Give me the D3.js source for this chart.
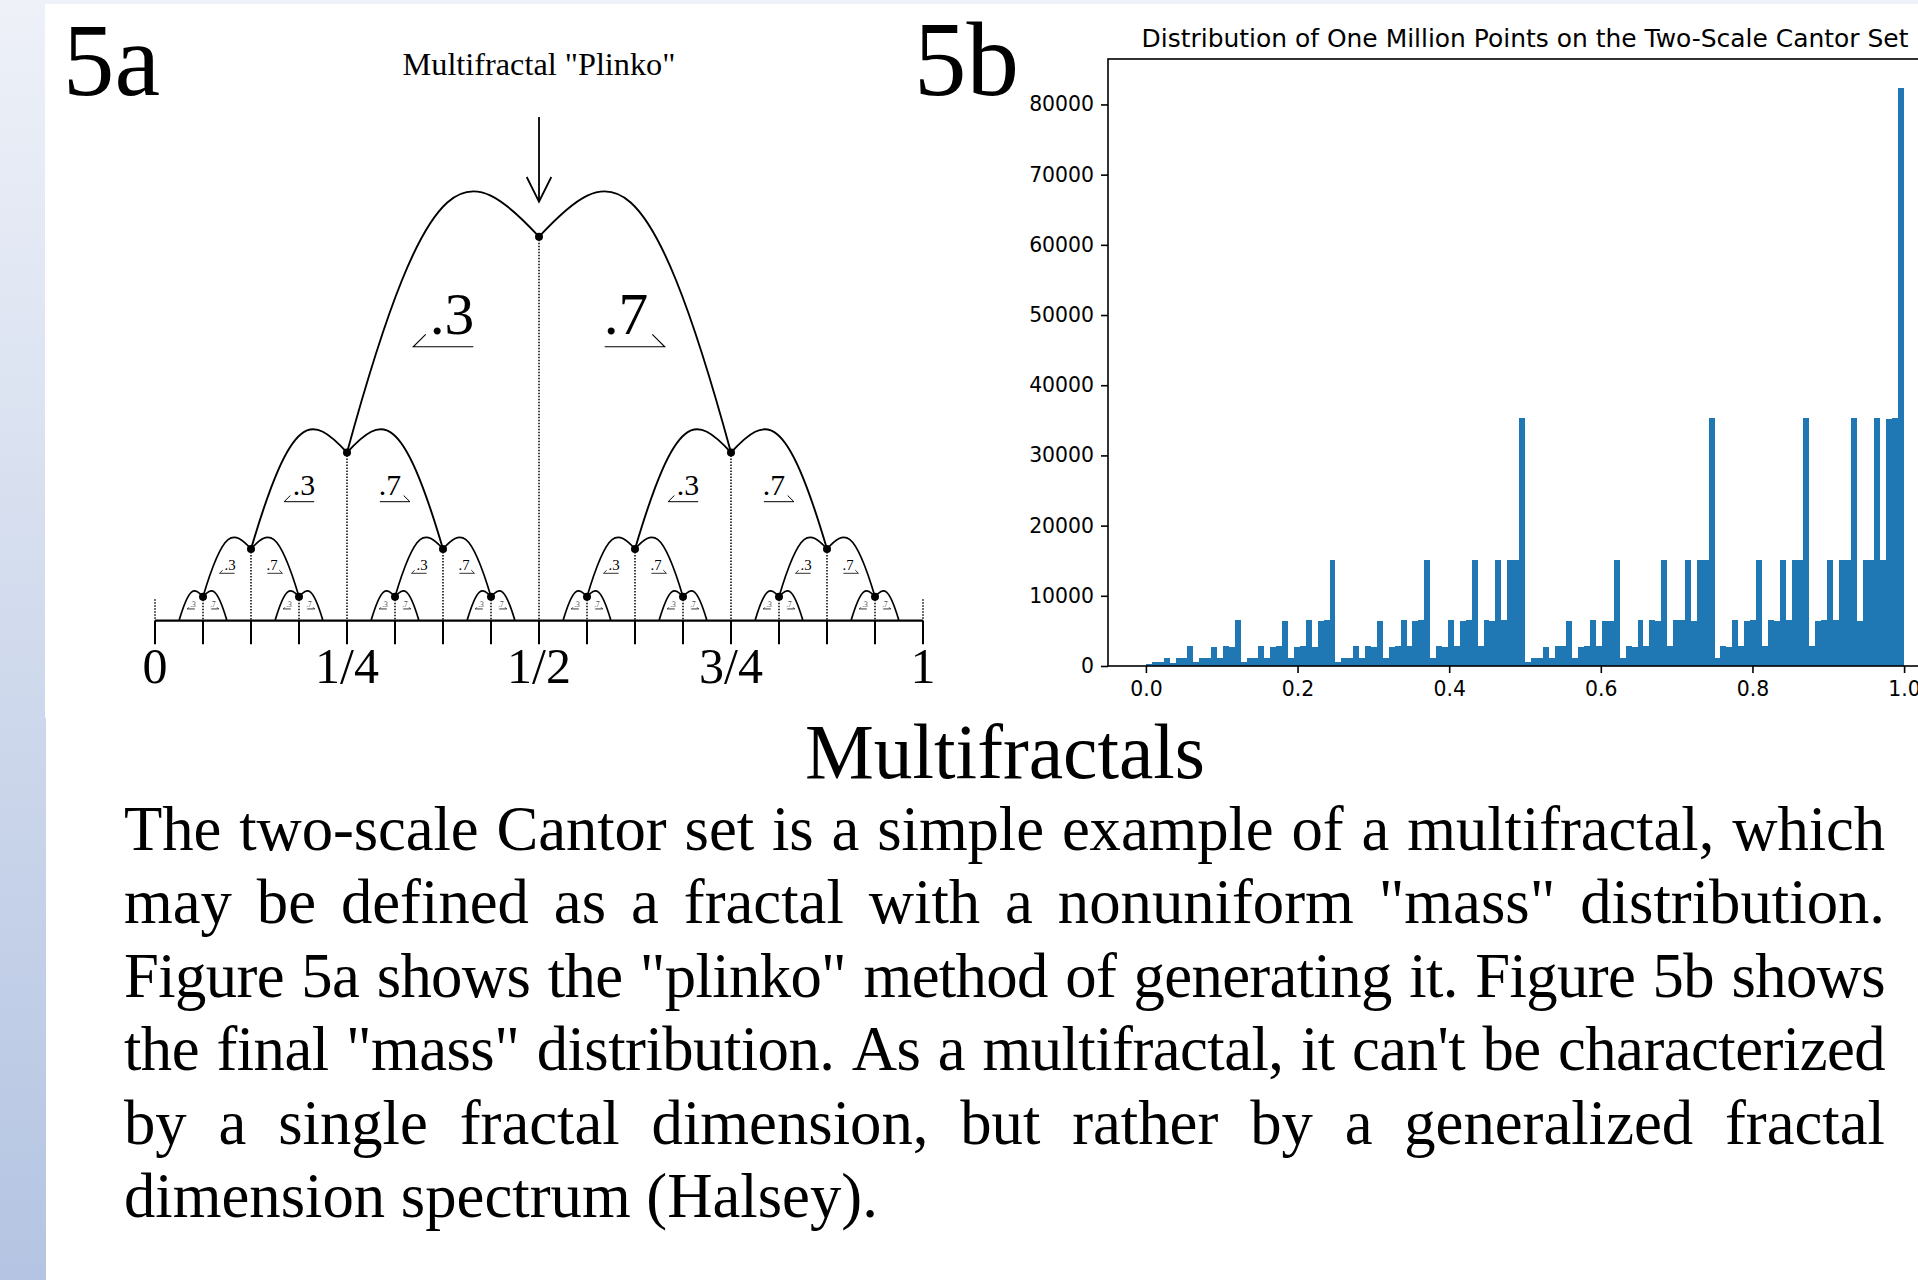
<!DOCTYPE html>
<html><head><meta charset="utf-8">
<script src="https://cdn.jsdelivr.net/npm/d3@7"></script>
<style>
html,body{margin:0;padding:0;background:#fff;}
body{width:1918px;height:1280px;overflow:hidden;position:relative;}
svg{position:absolute;left:0;top:0;}
</style></head><body>
<script>
// ---------------- DATA ----------------
const binCounts = [
  214, 507, 521, 1187, 498, 1203, 1176, 2791, 515, 1194, 1210, 2764, 1182, 2802, 2771, 6495,
  503, 1199, 1178, 2786, 1205, 2759, 2810, 6462, 1191, 2777, 2795, 6503, 2768, 6471, 6490, 15142,
  512, 1185, 1201, 2783, 1196, 2799, 2762, 6478, 1207, 2774, 2788, 6511, 2796, 6466, 6487, 15098,
  1189, 2805, 2769, 6494, 2781, 6459, 6502, 15161, 2790, 6484, 6476, 15117, 6498, 15134, 15089, 35312,
  509, 1198, 1183, 2776, 1192, 2801, 2784, 6469, 1204, 2767, 2793, 6506, 2780, 6481, 6473, 15127,
  1186, 2798, 2772, 6489, 2785, 6500, 6464, 15150, 2778, 6492, 6485, 15104, 6477, 15139, 15121, 35268,
  1195, 2789, 2773, 6496, 2782, 6470, 6508, 15113, 2794, 6483, 6479, 15146, 6491, 15108, 15132, 35327,
  2787, 6474, 6499, 15119, 6486, 15155, 15096, 35281, 6480, 15128, 15137, 35339, 15110, 35254, 35301, 82356
];
const histYTicks = [0, 10000, 20000, 30000, 40000, 50000, 60000, 70000, 80000];
const histXTicks = [0.0, 0.2, 0.4, 0.6, 0.8, 1.0];
const histTitle = "Distribution of One Million Points on the Two-Scale Cantor Set";

const plinkoTitle = 'Multifractal "Plinko"';
const plinkoProbs = [".3", ".7"];
const plinkoTickValues = [0, 0.25, 0.5, 0.75, 1];
const plinkoTickLabels = ["0", "1/4", "1/2", "3/4", "1"];
const plinkoLevels = 4;

const panelLabels = ["5a", "5b"];
const slideTitle = "Multifractals";
const bodyLines = [
  "The two-scale Cantor set is a simple example of a multifractal, which",
  "may be defined as a fractal with a nonuniform \"mass\" distribution.",
  "Figure 5a shows the \"plinko\" method of generating it. Figure 5b shows",
  "the final \"mass\" distribution. As a multifractal, it can't be characterized",
  "by a single fractal dimension, but rather by a generalized fractal",
  "dimension spectrum (Halsey)."
];

// ---------------- SETUP ----------------
const W = 1918, H = 1280;
const SERIF = "'Liberation Serif', 'DejaVu Serif', serif";
const SANS = "'DejaVu Sans', sans-serif";
const svg = d3.select("body").append("svg").attr("width", W).attr("height", H);
const defs = svg.append("defs");
const grad = defs.append("linearGradient").attr("id", "strip").attr("gradientUnits", "userSpaceOnUse")
  .attr("x1", 0).attr("y1", 0).attr("x2", 0).attr("y2", H);
grad.append("stop").attr("offset", "0%").attr("stop-color", "#eef1f8");
grad.append("stop").attr("offset", "100%").attr("stop-color", "#b4c4e2");

svg.append("rect").attr("x", 0).attr("y", 0).attr("width", W).attr("height", 4).attr("fill", "#eef1f8");
svg.append("rect").attr("x", 0).attr("y", 0).attr("width", 45).attr("height", 718).attr("fill", "url(#strip)");
svg.append("rect").attr("x", 0).attr("y", 718).attr("width", 46).attr("height", H - 718).attr("fill", "url(#strip)");

function fitWidth(sel, target) {
  const w = sel.node().getComputedTextLength();
  const fs = parseFloat(sel.attr("font-size"));
  sel.attr("font-size", fs * target / w);
}

// ---------------- PANEL LABELS ----------------
const l5a = svg.append("text").attr("x", 63).attr("y", 95).attr("font-family", SERIF)
  .attr("font-size", 100).text(panelLabels[0]);
fitWidth(l5a, 97);
const l5b = svg.append("text").attr("x", 914).attr("y", 95).attr("font-family", SERIF)
  .attr("font-size", 100).text(panelLabels[1]);
fitWidth(l5b, 105);

// ---------------- HISTOGRAM ----------------
const nb = binCounts.length;
const hx = d3.scaleLinear().domain([-0.05, 1.05]).range([1108, 1942]);
const hy = d3.scaleLinear().domain([0, d3.max(binCounts) * 1.05]).range([666, 59]);
const hg = svg.append("g");
hg.append("g").attr("shape-rendering", "crispEdges")
  .selectAll("rect").data(binCounts).join("rect")
  .attr("x", (d, i) => hx(i / nb))
  .attr("width", (d, i) => hx((i + 1) / nb) - hx(i / nb))
  .attr("y", d => hy(d))
  .attr("height", d => hy(0) - hy(d))
  .attr("fill", "#1f77b4");

const yAxis = d3.axisLeft(hy).tickValues(histYTicks).tickSize(7).tickPadding(7).tickFormat(d3.format("d"));
const gy = hg.append("g").attr("transform", `translate(${hx(-0.05)},0)`).call(yAxis);
gy.select(".domain").remove();
const xAxis = d3.axisBottom(hx).tickValues(histXTicks).tickSize(7).tickPadding(7).tickFormat(d3.format(".1f"));
const gx = hg.append("g").attr("transform", `translate(0,${hy(0)})`).call(xAxis);
gx.select(".domain").remove();
[gx, gy].forEach(g => {
  g.attr("font-family", SANS).attr("font-size", 20.4);
  g.selectAll("line").attr("stroke", "#000").attr("stroke-width", 1.6);
  g.selectAll("text").attr("fill", "#000");
});
gx.selectAll("text").attr("dy", "0.76em");
hg.append("rect").attr("x", hx(-0.05)).attr("y", hy.range()[1])
  .attr("width", hx(1.05) - hx(-0.05)).attr("height", hy.range()[0] - hy.range()[1])
  .attr("fill", "none").attr("stroke", "#000").attr("stroke-width", 1.6);
const ht = hg.append("text").attr("x", hx(0.5)).attr("y", 47).attr("text-anchor", "middle")
  .attr("font-family", SANS).attr("font-size", 24.5).attr("fill", "#000").text(histTitle);
fitWidth(ht, 767);

// ---------------- PLINKO ----------------
const px = d3.scaleLinear().domain([0, 1]).range([155, 923]);
const baseY = 620.7;
const unit = px(1) - px(0);
const py = d3.scaleLinear().domain([0, 1]).range([baseY, baseY - unit]);
const nodeH = [0.5, 0.219, 0.0934, 0.03125, 0];
const pg = svg.append("g");

pg.append("line").attr("x1", px(0)).attr("x2", px(1)).attr("y1", baseY).attr("y2", baseY)
  .attr("stroke", "#000").attr("stroke-width", 2.2);
pg.selectAll("line.tk").data(d3.range(0, 17).map(i => i / 16)).join("line").attr("class", "tk")
  .attr("x1", d => px(d)).attr("x2", d => px(d)).attr("y1", baseY).attr("y2", baseY + 23.6)
  .attr("stroke", "#000").attr("stroke-width", 2);
pg.selectAll("text.tl").data(plinkoTickValues).join("text").attr("class", "tl")
  .attr("x", d => px(d)).attr("y", 683).attr("text-anchor", "middle")
  .attr("font-family", SERIF).attr("font-size", 50).attr("fill", "#000")
  .text((d, i) => plinkoTickLabels[i]);
[0, 1].forEach(v => {
  pg.append("line").attr("x1", px(v)).attr("x2", px(v)).attr("y1", baseY - 21.4).attr("y2", baseY)
    .attr("stroke", "#000").attr("stroke-width", 1.5).attr("stroke-dasharray", "1.5,1.5");
});

const nodes = [];
function build(c, lev) {
  const d = 0.25 / Math.pow(2, lev);
  nodes.push({c, lev, d});
  if (lev + 1 < plinkoLevels) { build(c - d, lev + 1); build(c + d, lev + 1); }
}
build(0.5, 0);

const curveG = pg.append("g");
const dotG = pg.append("g");
const labG = pg.append("g");
nodes.forEach(n => {
  const D = n.d * unit;
  const x0 = px(n.c), y0 = py(nodeH[n.lev]);
  const yc = py(nodeH[n.lev + 1]);
  dotG.append("line").attr("x1", x0).attr("x2", x0).attr("y1", y0).attr("y2", baseY)
    .attr("stroke", "#000").attr("stroke-width", 1.5).attr("stroke-dasharray", "1.5,1.5");
  [-1, 1].forEach((s, k) => {
    const p = d3.path();
    p.moveTo(x0, y0);
    p.bezierCurveTo(px(n.c + s * 0.37 * n.d), y0 - 0.40 * D,
                    px(n.c + s * 0.57 * n.d), y0 - 0.45 * D,
                    px(n.c + s * n.d), yc);
    curveG.append("path").attr("d", p.toString()).attr("fill", "none")
      .attr("stroke", "#000").attr("stroke-width", n.lev < 2 ? 1.9 : 1.7);
    const ly = y0 + 0.51 * (yc - y0);
    const xa = px(n.c + s * 0.342 * n.d), xb = px(n.c + s * 0.655 * n.d);
    const hk = 0.065 * D;
    const lw = n.lev === 0 ? 1.1 : (n.lev === 1 ? 1 : 0.8);
    labG.append("path")
      .attr("d", `M${xa},${ly}L${xb},${ly}L${xb - s * hk},${ly - hk}`)
      .attr("fill", "none").attr("stroke", "#000").attr("stroke-width", lw);
    labG.append("text").attr("x", s < 0 ? xa + 1 : xa - 1).attr("y", ly - 0.068 * D)
      .attr("text-anchor", s < 0 ? "end" : "start")
      .attr("font-family", SERIF).attr("font-size", 0.31 * D).attr("fill", n.lev > 2 ? "#444" : "#000")
      .text(plinkoProbs[k]);
  });
  dotG.append("circle").attr("cx", x0).attr("cy", y0).attr("r", 4).attr("fill", "#000");
});

const ax = px(0.5);
pg.append("line").attr("x1", ax).attr("x2", ax).attr("y1", 117).attr("y2", 201.7)
  .attr("stroke", "#000").attr("stroke-width", 1.8);
pg.append("path").attr("d", `M${ax - 12.3},177L${ax},201.7L${ax + 12.3},177`)
  .attr("fill", "none").attr("stroke", "#000").attr("stroke-width", 1.8);
const ptitle = pg.append("text").attr("x", ax).attr("y", 75).attr("text-anchor", "middle")
  .attr("font-family", SERIF).attr("font-size", 30).attr("fill", "#000").text(plinkoTitle);
fitWidth(ptitle, 273);

// ---------------- SLIDE TEXT ----------------
const st = svg.append("text").attr("x", 1005).attr("y", 778).attr("text-anchor", "middle")
  .attr("font-family", SERIF).attr("font-size", 80).attr("fill", "#000").text(slideTitle);
fitWidth(st, 400);

const tmp = svg.append("text").attr("font-family", SERIF).attr("font-size", 100);
function measure(s, fs, ls) {
  tmp.attr("font-size", fs).attr("letter-spacing", ls || 0).text(s);
  return tmp.node().getComputedTextLength();
}
const bx0 = 124, bx1 = 1885, by0 = 850, lh = 73.4;
const bw = bx1 - bx0;
const bfs = 100 * 754 / measure(bodyLines[5], 100);
const bodyG = svg.append("g");
bodyLines.forEach((line, li) => {
  const y = by0 + li * lh;
  const t = bodyG.append("text").attr("y", y).attr("font-family", SERIF).attr("font-size", bfs).attr("fill", "#000");
  if (li === bodyLines.length - 1) {
    t.attr("x", bx0).text(line);
    return;
  }
  // compress letters slightly if the natural line is too wide
  let ls = 0;
  const nat = measure(line, bfs);
  const maxW = bw * 0.985;
  if (nat > maxW) ls = (maxW - nat) / line.length;
  t.attr("letter-spacing", ls);
  const words = line.split(" ");
  const ws = words.map(w => measure(w, bfs, ls));
  const gap = (bw - d3.sum(ws)) / (words.length - 1);
  let x = bx0;
  words.forEach((w, i) => {
    t.append("tspan").attr("x", x).text(w + (i < words.length - 1 ? " " : ""));
    x += ws[i] + gap;
  });
});
tmp.remove();
</script>
</body></html>
